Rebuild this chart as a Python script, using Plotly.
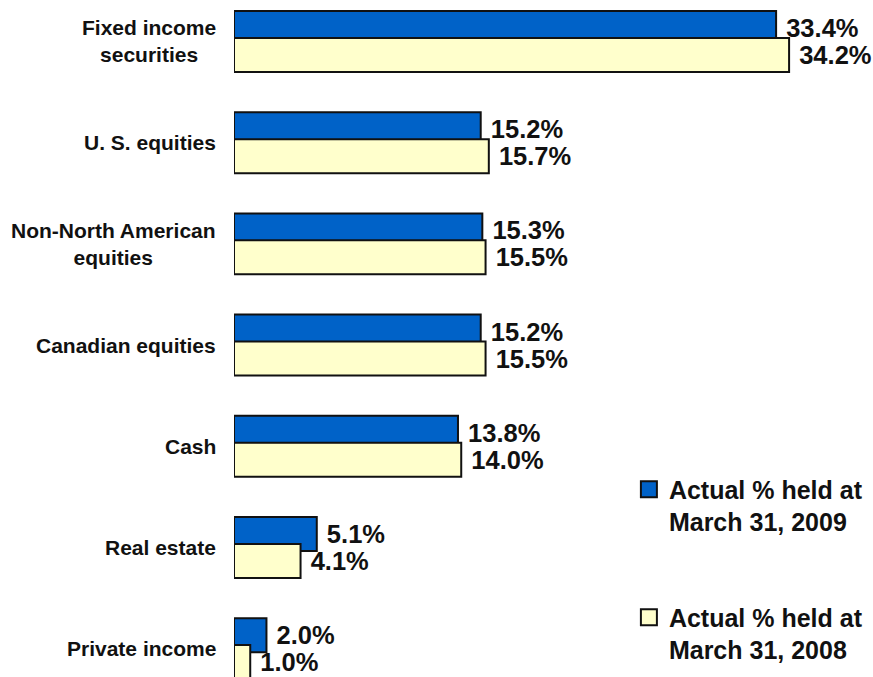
import plotly.graph_objects as go

categories = ["Fixed income securities", "U. S. equities", "Non-North American equities",
              "Canadian equities", "Cash", "Real estate", "Private income"]
category_labels = ["Fixed income<br>securities", "U. S. equities", "Non-North American<br>equities",
                   "Canadian equities", "Cash", "Real estate", "Private income"]
held_2009 = [33.4, 15.2, 15.3, 15.2, 13.8, 5.1, 2.0]
held_2008 = [34.2, 15.7, 15.5, 15.5, 14.0, 4.1, 1.0]
series_names = ["Actual % held at<br>March 31, 2009", "Actual % held at<br>March 31, 2008"]

FONT = "Liberation Sans, Arial, sans-serif"
BLUE = "#0062C8"
YELLOW = "#FFFFCC"

fig = go.Figure()
fig.add_trace(go.Bar(
    y=categories, x=held_2009, orientation="h", width=0.336, offset=-0.301,
    marker=dict(color=BLUE, line=dict(color="#111111", width=2)),
    text=[f" {v:.1f}%" for v in held_2009], textposition="outside",
    textfont=dict(family=FONT, size=25.5, color="#111111", weight="bold"),
    constraintext="none", cliponaxis=False, showlegend=False, hoverinfo="skip"))
fig.add_trace(go.Bar(
    y=categories, x=held_2008, orientation="h", width=0.336, offset=-0.035,
    marker=dict(color=YELLOW, line=dict(color="#111111", width=2)),
    text=[f" {v:.1f}%" for v in held_2008], textposition="outside",
    textfont=dict(family=FONT, size=25.5, color="#111111", weight="bold"),
    constraintext="none", cliponaxis=False, showlegend=False, hoverinfo="skip"))

# legend entries
for name, col, lg in [(series_names[0], BLUE, "legend"), (series_names[1], YELLOW, "legend2")]:
    fig.add_trace(go.Scatter(
        x=[None], y=[None], mode="markers", name=name, legend=lg,
        marker=dict(symbol="square", size=16, color=col, line=dict(color="#111111", width=2))))

for cat, lab in zip(categories, category_labels):
    fig.add_annotation(x=0, xref="paper", y=cat, yref="y", text=lab, showarrow=False,
                       xanchor="right", yanchor="middle", align="center", xshift=-16,
                       font=dict(family=FONT, size=21, color="#111111", weight="bold"))

legfont = dict(family=FONT, size=25, color="#111111", weight="bold")
fig.update_layout(
    width=873, height=677, barmode="overlay",
    margin=dict(l=234, r=0, t=0, b=0),
    paper_bgcolor="white", plot_bgcolor="white",
    xaxis=dict(range=[0, 39.37], visible=False, fixedrange=True),
    yaxis=dict(type="category", categoryorder="array", categoryarray=categories,
               range=[6.28, -0.41], autorange=False, showticklabels=False,
               showgrid=False, zeroline=False, showline=False, ticks="", fixedrange=True),
    legend=dict(x=0.618, y=0.311, xanchor="left", yanchor="top", font=legfont,
                valign="top", bgcolor="rgba(0,0,0,0)", itemsizing="trace"),
    legend2=dict(x=0.618, y=0.122, xanchor="left", yanchor="top", font=legfont,
                 valign="top", bgcolor="rgba(0,0,0,0)", itemsizing="trace"),
    showlegend=True,
)

fig.write_html("out.html", config={"displayModeBar": False},
               post_script="document.body.style.margin='0';document.body.style.overflow='hidden';")
